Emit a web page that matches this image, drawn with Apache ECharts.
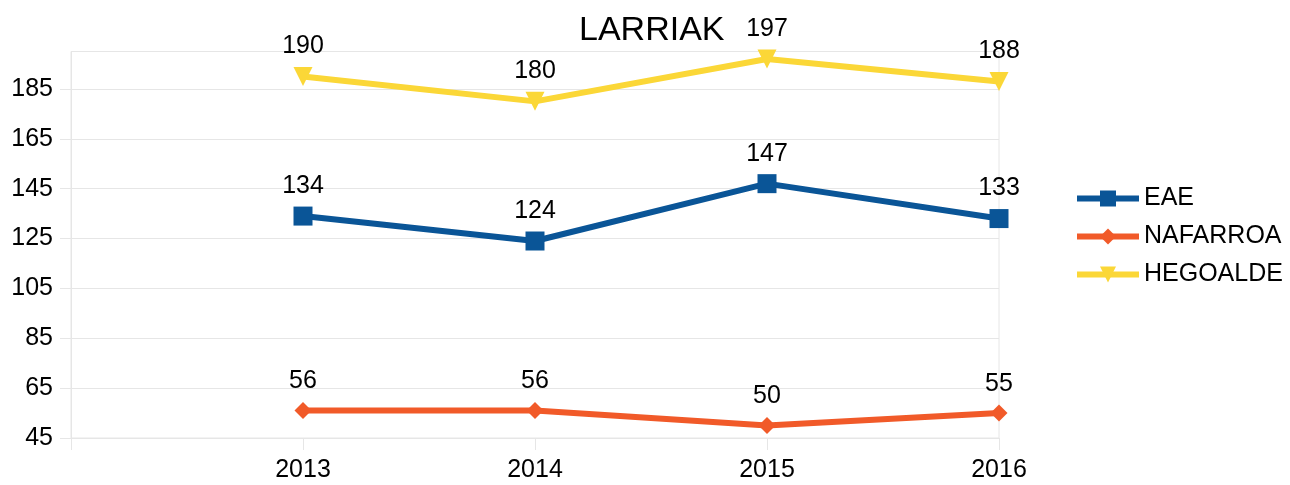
<!DOCTYPE html>
<html>
<head>
  <meta charset="utf-8" />
  <title>LARRIAK</title>
  <script src="https://cdn.jsdelivr.net/npm/echarts@6/dist/echarts.min.js"></script>
  <style>
    html, body { margin: 0; padding: 0; background: #fff; }
    #chart { width: 1290px; height: 485px; }
  </style>
</head>
<body>
  <div id="chart"></div>
<script>
  "use strict";

  // empty first slot keeps the left gap before 2013
  var years = ['', '2013', '2014', '2015', '2016'];
  var eae = [null, 134, 124, 147, 133];
  var nafarroa = [null, 56, 56, 50, 55];
  var hegoalde = [null, 190, 180, 197, 188];

  var font = 'Liberation Sans';
  var gridColor = '#e6e6e6';

  var myChart = echarts.init(document.getElementById('chart'));

  function line(name, data, color, symbol, size) {
    return {
      name: name,
      type: 'line',
      data: data,
      symbol: symbol,
      symbolSize: size,
      showAllSymbol: true,
      lineStyle: { color: color, width: 6 },
      itemStyle: { color: color },
      label: {
        show: true,
        position: 'top',
        distance: 8,
        color: '#000',
        fontFamily: font,
        fontSize: 25
      },
      emphasis: { disabled: true },
      animation: false
    };
  }

  var option = {
    backgroundColor: '#fff',
    title: {
      text: 'LARRIAK',
      left: 574,
      top: 9,
      textStyle: { fontFamily: font, fontSize: 34, fontWeight: 'normal', color: '#000' }
    },
    legend: {
      orient: 'vertical',
      left: 1069,
      top: 181,
      itemWidth: 62,
      itemHeight: 20,
      itemGap: 13,
      lineStyle: { width: 6 },
      textStyle: { fontFamily: font, fontSize: 25, color: '#000' },
      data: ['EAE', 'NAFARROA', 'HEGOALDE']
    },
    grid: {
      left: 71,
      right: 291,
      top: 51.5,
      bottom: 47,
      show: true,
      borderColor: gridColor,
      borderWidth: 1
    },
    xAxis: {
      type: 'category',
      data: years,
      boundaryGap: false,
      axisLine: { lineStyle: { color: gridColor } },
      axisTick: { show: true, length: 12, lineStyle: { color: gridColor } },
      axisLabel: { color: '#000', fontFamily: font, fontSize: 25, margin: 20 },
      splitLine: { show: false }
    },
    yAxis: {
      type: 'value',
      min: 45,
      max: 200,
      interval: 20,
      axisLine: { show: true, lineStyle: { color: gridColor } },
      axisTick: { show: true, length: 11, lineStyle: { color: gridColor } },
      axisLabel: { color: '#000', fontFamily: font, fontSize: 25, margin: 18, showMaxLabel: false },
      splitLine: { show: true, lineStyle: { color: gridColor } }
    },
    series: [
      line('EAE', eae, '#0a5597', 'rect', 19),
      line('NAFARROA', nafarroa, '#f15a29', 'diamond', 17),
      line('HEGOALDE', hegoalde, '#fbd737', 'path://M0,0 L10,0 L5,8 Z', 19)
    ]
  };

  myChart.setOption(option);
</script>
</body>
</html>
